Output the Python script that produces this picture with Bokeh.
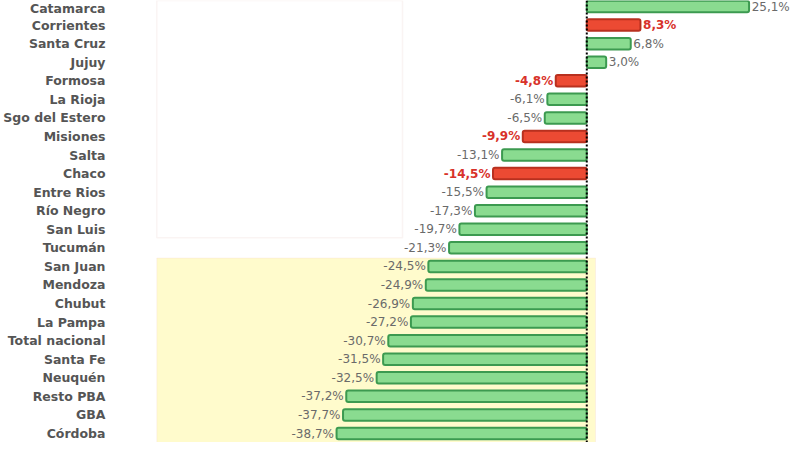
from bokeh.plotting import figure
from bokeh.models import ColumnDataSource, Range1d, FixedTicker, Span, BoxAnnotation
from bokeh.embed import file_html
from bokeh.resources import INLINE

provinces = ["Catamarca", "Corrientes", "Santa Cruz", "Jujuy", "Formosa", "La Rioja",
             "Sgo del Estero", "Misiones", "Salta", "Chaco", "Entre Rios", "Río Negro",
             "San Luis", "Tucumán", "San Juan", "Mendoza", "Chubut", "La Pampa",
             "Total nacional", "Santa Fe", "Neuquén", "Resto PBA", "GBA", "Córdoba"]
values = [25.1, 8.3, 6.8, 3.0, -4.8, -6.1, -6.5, -9.9, -13.1, -14.5, -15.5, -17.3,
          -19.7, -21.3, -24.5, -24.9, -26.9, -27.2, -30.7, -31.5, -32.5, -37.2, -37.7, -38.7]
highlight = ["Corrientes", "Formosa", "Misiones", "Chaco"]

n = len(provinces)
ypos = [n - 1 - i for i in range(n)]
is_red = [p in highlight for p in provinces]
fill = ["#ec4a33" if r else "#8adb90" for r in is_red]
line = ["#b8301f" if r else "#3c9a50" for r in is_red]
lab_color = ["#d8322a" if r else "#6a6a6a" for r in is_red]
lab_style = ["bold" if r else "normal" for r in is_red]
labels = [("%.1f%%" % v).replace(".", ",") for v in values]
lab_x = [v + (0.4 if v >= 0 else -0.4) for v in values]
align = ["left" if v >= 0 else "right" for v in values]

src = ColumnDataSource(dict(y=ypos, v=values, fill=fill, line=line, lab=labels,
                            lx=lab_x, lc=lab_color, ls=lab_style, al=align))

W, H = 792, 442
L = 105
zero_px = 582
scale = 6.6
x0 = -(zero_px - L) / scale
x1 = (W - zero_px) / scale
top_px, bot_px = 6, 433
step = (bot_px - top_px) / (n - 1)
ytop = (n - 1) + top_px / step
ybot = -(H - bot_px) / step

p = figure(width=W, height=H, output_backend="svg", toolbar_location=None,
           x_range=Range1d(x0, x1), y_range=Range1d(ybot, ytop),
           min_border_left=L, min_border_right=0, min_border_top=0, min_border_bottom=0)
p.outline_line_color = None
p.xaxis.visible = False
p.grid.visible = False
p.background_fill_color = "white"

p.yaxis.ticker = FixedTicker(ticks=ypos)
p.yaxis.major_label_overrides = {y: name for y, name in zip(ypos, provinces)}
p.yaxis.axis_line_color = None
p.yaxis.major_tick_line_color = None
p.yaxis.minor_tick_line_color = None
p.yaxis.major_label_standoff = 8
p.yaxis.major_label_text_font = "DejaVu Sans"
p.yaxis.major_label_text_font_style = "bold"
p.yaxis.major_label_text_font_size = "12.5px"
p.yaxis.major_label_text_color = "#555555"

# pale background panel (slide decoration)
p.add_layout(BoxAnnotation(left=-66.5, right=1.35, top=ypos[provinces.index("San Juan")] + 0.45,
                           fill_color="#fffbcc", fill_alpha=1.0, line_color="#f6d6d2",
                           line_width=1, level="underlay"))
p.add_layout(BoxAnnotation(left=-66.5, right=-28.5, bottom=ypos[provinces.index("Tucumán")] + 0.55,
                           fill_color=None, fill_alpha=0, line_color="#eedcd8",
                           line_width=1.5, level="underlay"))

p.hbar(y="y", left=0, right="v", height=0.62, source=src, fill_color="fill",
       line_color="line", line_width=2, border_radius=2)

p.add_layout(Span(location=0, dimension="height", line_color="black",
                  line_width=2, line_dash="2 2"))

p.text(x="lx", y="y", text="lab", source=src, text_align="al", text_baseline="middle",
       text_color="lc", text_font_style="ls", text_font_size="12px",
       text_font={"value": "DejaVu Sans"})

open("out.html", "w").write(file_html(p, INLINE))
